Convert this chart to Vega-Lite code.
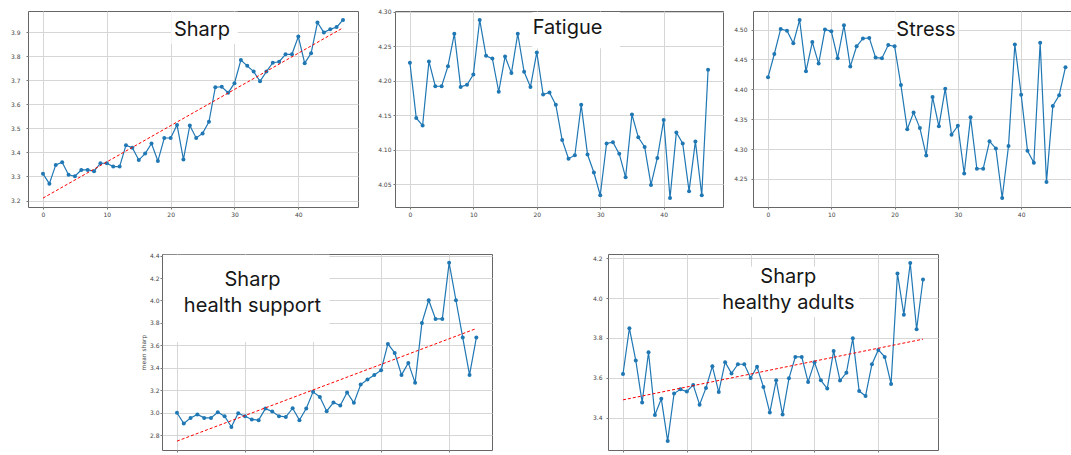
{
"$schema":"https://vega.github.io/schema/vega-lite/v6.json",
"background":"white",
"padding":{"left":0,"top":8,"right":0,"bottom":0},
"spacing":34,
"datasets":{
"sharp":[{"t":0,"v":3.311},{"t":1,"v":3.270},{"t":2,"v":3.348},{"t":3,"v":3.359},{"t":4,"v":3.307},{"t":5,"v":3.301},{"t":6,"v":3.327},{"t":7,"v":3.327},{"t":8,"v":3.322},{"t":9,"v":3.355},{"t":10,"v":3.355},{"t":11,"v":3.341},{"t":12,"v":3.341},{"t":13,"v":3.430},{"t":14,"v":3.419},{"t":15,"v":3.368},{"t":16,"v":3.395},{"t":17,"v":3.437},{"t":18,"v":3.364},{"t":19,"v":3.460},{"t":20,"v":3.460},{"t":21,"v":3.514},{"t":22,"v":3.371},{"t":23,"v":3.512},{"t":24,"v":3.460},{"t":25,"v":3.479},{"t":26,"v":3.527},{"t":27,"v":3.671},{"t":28,"v":3.673},{"t":29,"v":3.648},{"t":30,"v":3.688},{"t":31,"v":3.784},{"t":32,"v":3.760},{"t":33,"v":3.736},{"t":34,"v":3.696},{"t":35,"v":3.736},{"t":36,"v":3.773},{"t":37,"v":3.777},{"t":38,"v":3.808},{"t":39,"v":3.808},{"t":40,"v":3.882},{"t":41,"v":3.771},{"t":42,"v":3.812},{"t":43,"v":3.940},{"t":44,"v":3.899},{"t":45,"v":3.912},{"t":46,"v":3.921},{"t":47,"v":3.951}],
"sharp_trend":[{"t":0,"v":3.21},{"t":47,"v":3.918}],
"fatigue":[{"t":0,"v":4.226},{"t":1,"v":4.146},{"t":2,"v":4.135},{"t":3,"v":4.228},{"t":4,"v":4.192},{"t":5,"v":4.192},{"t":6,"v":4.221},{"t":7,"v":4.268},{"t":8,"v":4.191},{"t":9,"v":4.194},{"t":10,"v":4.209},{"t":11,"v":4.288},{"t":12,"v":4.236},{"t":13,"v":4.232},{"t":14,"v":4.184},{"t":15,"v":4.235},{"t":16,"v":4.211},{"t":17,"v":4.268},{"t":18,"v":4.213},{"t":19,"v":4.191},{"t":20,"v":4.241},{"t":21,"v":4.180},{"t":22,"v":4.183},{"t":23,"v":4.165},{"t":24,"v":4.114},{"t":25,"v":4.087},{"t":26,"v":4.092},{"t":27,"v":4.165},{"t":28,"v":4.093},{"t":29,"v":4.067},{"t":30,"v":4.034},{"t":31,"v":4.109},{"t":32,"v":4.111},{"t":33,"v":4.094},{"t":34,"v":4.060},{"t":35,"v":4.151},{"t":36,"v":4.118},{"t":37,"v":4.104},{"t":38,"v":4.049},{"t":39,"v":4.088},{"t":40,"v":4.143},{"t":41,"v":4.030},{"t":42,"v":4.125},{"t":43,"v":4.109},{"t":44,"v":4.040},{"t":45,"v":4.112},{"t":46,"v":4.034},{"t":47,"v":4.216}],
"stress":[{"t":0,"v":4.420},{"t":1,"v":4.459},{"t":2,"v":4.501},{"t":3,"v":4.498},{"t":4,"v":4.477},{"t":5,"v":4.516},{"t":6,"v":4.430},{"t":7,"v":4.479},{"t":8,"v":4.443},{"t":9,"v":4.500},{"t":10,"v":4.497},{"t":11,"v":4.452},{"t":12,"v":4.507},{"t":13,"v":4.438},{"t":14,"v":4.472},{"t":15,"v":4.485},{"t":16,"v":4.486},{"t":17,"v":4.453},{"t":18,"v":4.452},{"t":19,"v":4.474},{"t":20,"v":4.472},{"t":21,"v":4.407},{"t":22,"v":4.333},{"t":23,"v":4.361},{"t":24,"v":4.335},{"t":25,"v":4.289},{"t":26,"v":4.387},{"t":27,"v":4.338},{"t":28,"v":4.401},{"t":29,"v":4.324},{"t":30,"v":4.339},{"t":31,"v":4.259},{"t":32,"v":4.353},{"t":33,"v":4.267},{"t":34,"v":4.267},{"t":35,"v":4.313},{"t":36,"v":4.301},{"t":37,"v":4.218},{"t":38,"v":4.305},{"t":39,"v":4.475},{"t":40,"v":4.391},{"t":41,"v":4.297},{"t":42,"v":4.277},{"t":43,"v":4.478},{"t":44,"v":4.245},{"t":45,"v":4.372},{"t":46,"v":4.390},{"t":47,"v":4.437}],
"hs":[{"t":0,"v":3.000},{"t":1,"v":2.904},{"t":2,"v":2.954},{"t":3,"v":2.984},{"t":4,"v":2.954},{"t":5,"v":2.954},{"t":6,"v":3.005},{"t":7,"v":2.969},{"t":8,"v":2.874},{"t":9,"v":2.996},{"t":10,"v":2.969},{"t":11,"v":2.940},{"t":12,"v":2.934},{"t":13,"v":3.037},{"t":14,"v":3.011},{"t":15,"v":2.969},{"t":16,"v":2.963},{"t":17,"v":3.040},{"t":18,"v":2.934},{"t":19,"v":3.037},{"t":20,"v":3.186},{"t":21,"v":3.141},{"t":22,"v":3.014},{"t":23,"v":3.091},{"t":24,"v":3.064},{"t":25,"v":3.180},{"t":26,"v":3.088},{"t":27,"v":3.251},{"t":28,"v":3.296},{"t":29,"v":3.337},{"t":30,"v":3.379},{"t":31,"v":3.613},{"t":32,"v":3.533},{"t":33,"v":3.337},{"t":34,"v":3.444},{"t":35,"v":3.266},{"t":36,"v":3.800},{"t":37,"v":4.002},{"t":38,"v":3.836},{"t":39,"v":3.836},{"t":40,"v":4.335},{"t":41,"v":4.002},{"t":42,"v":3.670},{"t":43,"v":3.337},{"t":44,"v":3.670}],
"hs_trend":[{"t":0,"v":2.747},{"t":44,"v":3.75}],
"ha":[{"t":0,"v":3.619},{"t":1,"v":3.849},{"t":2,"v":3.687},{"t":3,"v":3.476},{"t":4,"v":3.728},{"t":5,"v":3.413},{"t":6,"v":3.494},{"t":7,"v":3.282},{"t":8,"v":3.521},{"t":9,"v":3.542},{"t":10,"v":3.531},{"t":11,"v":3.564},{"t":12,"v":3.465},{"t":13,"v":3.549},{"t":14,"v":3.658},{"t":15,"v":3.528},{"t":16,"v":3.678},{"t":17,"v":3.622},{"t":18,"v":3.668},{"t":19,"v":3.668},{"t":20,"v":3.599},{"t":21,"v":3.655},{"t":22,"v":3.554},{"t":23,"v":3.425},{"t":24,"v":3.587},{"t":25,"v":3.415},{"t":26,"v":3.597},{"t":27,"v":3.705},{"t":28,"v":3.705},{"t":29,"v":3.579},{"t":30,"v":3.678},{"t":31,"v":3.587},{"t":32,"v":3.546},{"t":33,"v":3.735},{"t":34,"v":3.586},{"t":35,"v":3.625},{"t":36,"v":3.798},{"t":37,"v":3.533},{"t":38,"v":3.509},{"t":39,"v":3.668},{"t":40,"v":3.740},{"t":41,"v":3.705},{"t":42,"v":3.569},{"t":43,"v":4.124},{"t":44,"v":3.917},{"t":45,"v":4.177},{"t":46,"v":3.844},{"t":47,"v":4.094}],
"ha_trend":[{"t":0,"v":3.489},{"t":47,"v":3.794}],
"one":[{}],
"none":[]
},
"vconcat":[
{"hconcat":[
 {"width":330,"height":196,
  "layer":[
   {"data":{"name":"one"},"mark":{"type":"rect","color":"white"},
    "encoding":{"x":{"datum":20.1,"type":"quantitative","title":null},"x2":{"datum":30.5},"y":{"datum":3.851,"type":"quantitative","title":null},"y2":{"datum":3.985}}},
   {"data":{"name":"sharp"},"mark":{"type":"line","color":"#1f77b4","strokeWidth":1.2,"point":{"filled":true,"size":16,"color":"#1f77b4"}},
    "encoding":{
     "x":{"field":"t","type":"quantitative","title":null,"scale":{"domain":[-2.35,49.35],"nice":false,"zero":false},"axis":{"values":[0,10,20,30,40],"tickCount":30,"labelPadding":2}},
     "y":{"field":"v","type":"quantitative","title":null,"scale":{"domain":[3.173,3.988],"nice":false,"zero":false},"axis":{"values":[3.2,3.3,3.4,3.5,3.6,3.7,3.8,3.9],"tickCount":30,"format":".1f","labelPadding":6,"minExtent":27,"maxExtent":27}}}},
   {"data":{"name":"sharp_trend"},"mark":{"type":"line","color":"#ff0000","strokeWidth":1,"strokeDash":[3,2]},
    "encoding":{"x":{"field":"t","type":"quantitative","title":null},"y":{"field":"v","type":"quantitative","title":null}}},
   {"data":{"name":"one"},"mark":{"type":"text","font":"Inter","fontSize":20,"color":"#161616","align":"center","baseline":"middle"},
    "encoding":{"x":{"datum":24.9,"type":"quantitative","title":null},"y":{"datum":3.908,"type":"quantitative","title":null},"text":{"value":"Sharp"}}}
  ]},
 {"width":328,"height":196,
  "layer":[
   {"data":{"name":"one"},"mark":{"type":"rect","color":"white"},
    "encoding":{"x":{"datum":19.3,"type":"quantitative","title":null},"x2":{"datum":33.1},"y":{"datum":4.247,"type":"quantitative","title":null},"y2":{"datum":4.2995}}},
   {"data":{"name":"fatigue"},"mark":{"type":"line","color":"#1f77b4","strokeWidth":1.2,"point":{"filled":true,"size":16,"color":"#1f77b4"}},
    "encoding":{
     "x":{"field":"t","type":"quantitative","title":null,"scale":{"domain":[-2.35,49.35],"nice":false,"zero":false},"axis":{"values":[0,10,20,30,40],"tickCount":30,"labelPadding":2}},
     "y":{"field":"v","type":"quantitative","title":null,"scale":{"domain":[4.017,4.301],"nice":false,"zero":false},"axis":{"values":[4.05,4.10,4.15,4.20,4.25,4.30],"tickCount":30,"format":".2f","labelPadding":2,"minExtent":35,"maxExtent":35}}}},
   {"data":{"name":"one"},"mark":{"type":"text","font":"Inter","fontSize":20,"color":"#161616","align":"center","baseline":"middle"},
    "encoding":{"x":{"datum":24.85,"type":"quantitative","title":null},"y":{"datum":4.276,"type":"quantitative","title":null},"text":{"value":"Fatigue"}}}
  ]},
 {"width":319,"height":196,
  "layer":[
   {"data":{"name":"one"},"mark":{"type":"rect","color":"white"},
    "encoding":{"x":{"datum":20.1,"type":"quantitative","title":null},"x2":{"datum":29.9},"y":{"datum":4.475,"type":"quantitative","title":null},"y2":{"datum":4.529}}},
   {"data":{"name":"stress"},"mark":{"type":"line","color":"#1f77b4","strokeWidth":1.2,"point":{"filled":true,"size":16,"color":"#1f77b4"}},
    "encoding":{
     "x":{"field":"t","type":"quantitative","title":null,"scale":{"domain":[-2.37,48.03],"nice":false,"zero":false},"axis":{"values":[0,10,20,30,40],"tickCount":30,"labelPadding":2}},
     "y":{"field":"v","type":"quantitative","title":null,"scale":{"domain":[4.203,4.531],"nice":false,"zero":false},"axis":{"values":[4.25,4.30,4.35,4.40,4.45,4.50],"tickCount":30,"format":".2f","labelPadding":4,"minExtent":28,"maxExtent":28}}}},
   {"data":{"name":"one"},"mark":{"type":"text","font":"Inter","fontSize":20,"color":"#161616","align":"center","baseline":"middle"},
    "encoding":{"x":{"datum":24.96,"type":"quantitative","title":null},"y":{"datum":4.5,"type":"quantitative","title":null},"text":{"value":"Stress"}}}
  ]}
],"spacing":0},
{"hconcat":[
 {"width":1,"height":1,"view":{"stroke":null},"data":{"name":"none"},"mark":"point","encoding":{}},
 {"width":330,"height":196,
  "layer":[
   {"data":{"name":"one"},"mark":{"type":"rect","color":"white"},
    "encoding":{"x":{"datum":-2.0,"type":"quantitative","title":null},"x2":{"datum":22.4},"y":{"datum":3.63,"type":"quantitative","title":"mean sharp"},"y2":{"datum":4.407}}},
   {"data":{"name":"hs"},"mark":{"type":"line","color":"#1f77b4","strokeWidth":1.2,"point":{"filled":true,"size":16,"color":"#1f77b4"}},
    "encoding":{
     "x":{"field":"t","type":"quantitative","title":null,"scale":{"domain":[-2.2,46.3],"nice":false,"zero":false},"axis":{"values":[0,10,20,30,40],"tickCount":30,"labels":false}},
     "y":{"field":"v","type":"quantitative","title":"mean sharp","scale":{"domain":[2.668,4.414],"nice":false,"zero":false},"axis":{"values":[2.8,3.0,3.2,3.4,3.6,3.8,4.0,4.2,4.4],"tickCount":30,"format":".1f","labelPadding":1,"minExtent":132,"maxExtent":132,"titleX":-19,"titleY":98,"titleBaseline":"middle","titleFontSize":6,"titleFont":"DejaVu Sans","titleFontWeight":"normal","titleColor":"#444"}}}},
   {"data":{"name":"hs_trend"},"mark":{"type":"line","color":"#ff0000","strokeWidth":1,"strokeDash":[3,2]},
    "encoding":{"x":{"field":"t","type":"quantitative","title":null},"y":{"field":"v","type":"quantitative","title":"mean sharp"}}},
   {"data":{"name":"one"},"mark":{"type":"text","font":"Inter","fontSize":20,"color":"#161616","align":"center","baseline":"middle","lineHeight":26},
    "encoding":{"x":{"datum":11.1,"type":"quantitative","title":null},"y":{"datum":4.182,"type":"quantitative","title":"mean sharp"},"text":{"value":["Sharp","health support"]}}}
  ]},
 {"width":330,"height":196,
  "layer":[
   {"data":{"name":"one"},"mark":{"type":"rect","color":"white"},
    "encoding":{"x":{"datum":15.1,"type":"quantitative","title":null},"x2":{"datum":37.0},"y":{"datum":3.905,"type":"quantitative","title":null},"y2":{"datum":4.159}}},
   {"data":{"name":"ha"},"mark":{"type":"line","color":"#1f77b4","strokeWidth":1.2,"point":{"filled":true,"size":16,"color":"#1f77b4"}},
    "encoding":{
     "x":{"field":"t","type":"quantitative","title":null,"scale":{"domain":[-2.35,49.35],"nice":false,"zero":false},"axis":{"values":[0,10,20,30,40],"tickCount":30,"labels":false}},
     "y":{"field":"v","type":"quantitative","title":null,"scale":{"domain":[3.237,4.222],"nice":false,"zero":false},"axis":{"values":[3.4,3.6,3.8,4.0,4.2],"tickCount":30,"format":".1f","labelPadding":4,"minExtent":114,"maxExtent":114}}}},
   {"data":{"name":"ha_trend"},"mark":{"type":"line","color":"#ff0000","strokeWidth":1,"strokeDash":[3,2]},
    "encoding":{"x":{"field":"t","type":"quantitative","title":null},"y":{"field":"v","type":"quantitative","title":null}}},
   {"data":{"name":"one"},"mark":{"type":"text","font":"Inter","fontSize":20,"color":"#161616","align":"center","baseline":"middle","lineHeight":26},
    "encoding":{"x":{"datum":25.9,"type":"quantitative","title":null},"y":{"datum":4.106,"type":"quantitative","title":null},"text":{"value":["Sharp","healthy adults"]}}}
  ]}
],"spacing":0}
],
"config":{
 "view":{"stroke":"#666","strokeWidth":1},
 "axis":{"labelFont":"DejaVu Sans","labelFontSize":6,"labelColor":"#444","labelOverlap":false,"tickColor":"#555","tickSize":2,"tickWidth":0.8,"domain":false,"grid":true,"gridColor":"#d6d6d6","gridWidth":1}
}
}
